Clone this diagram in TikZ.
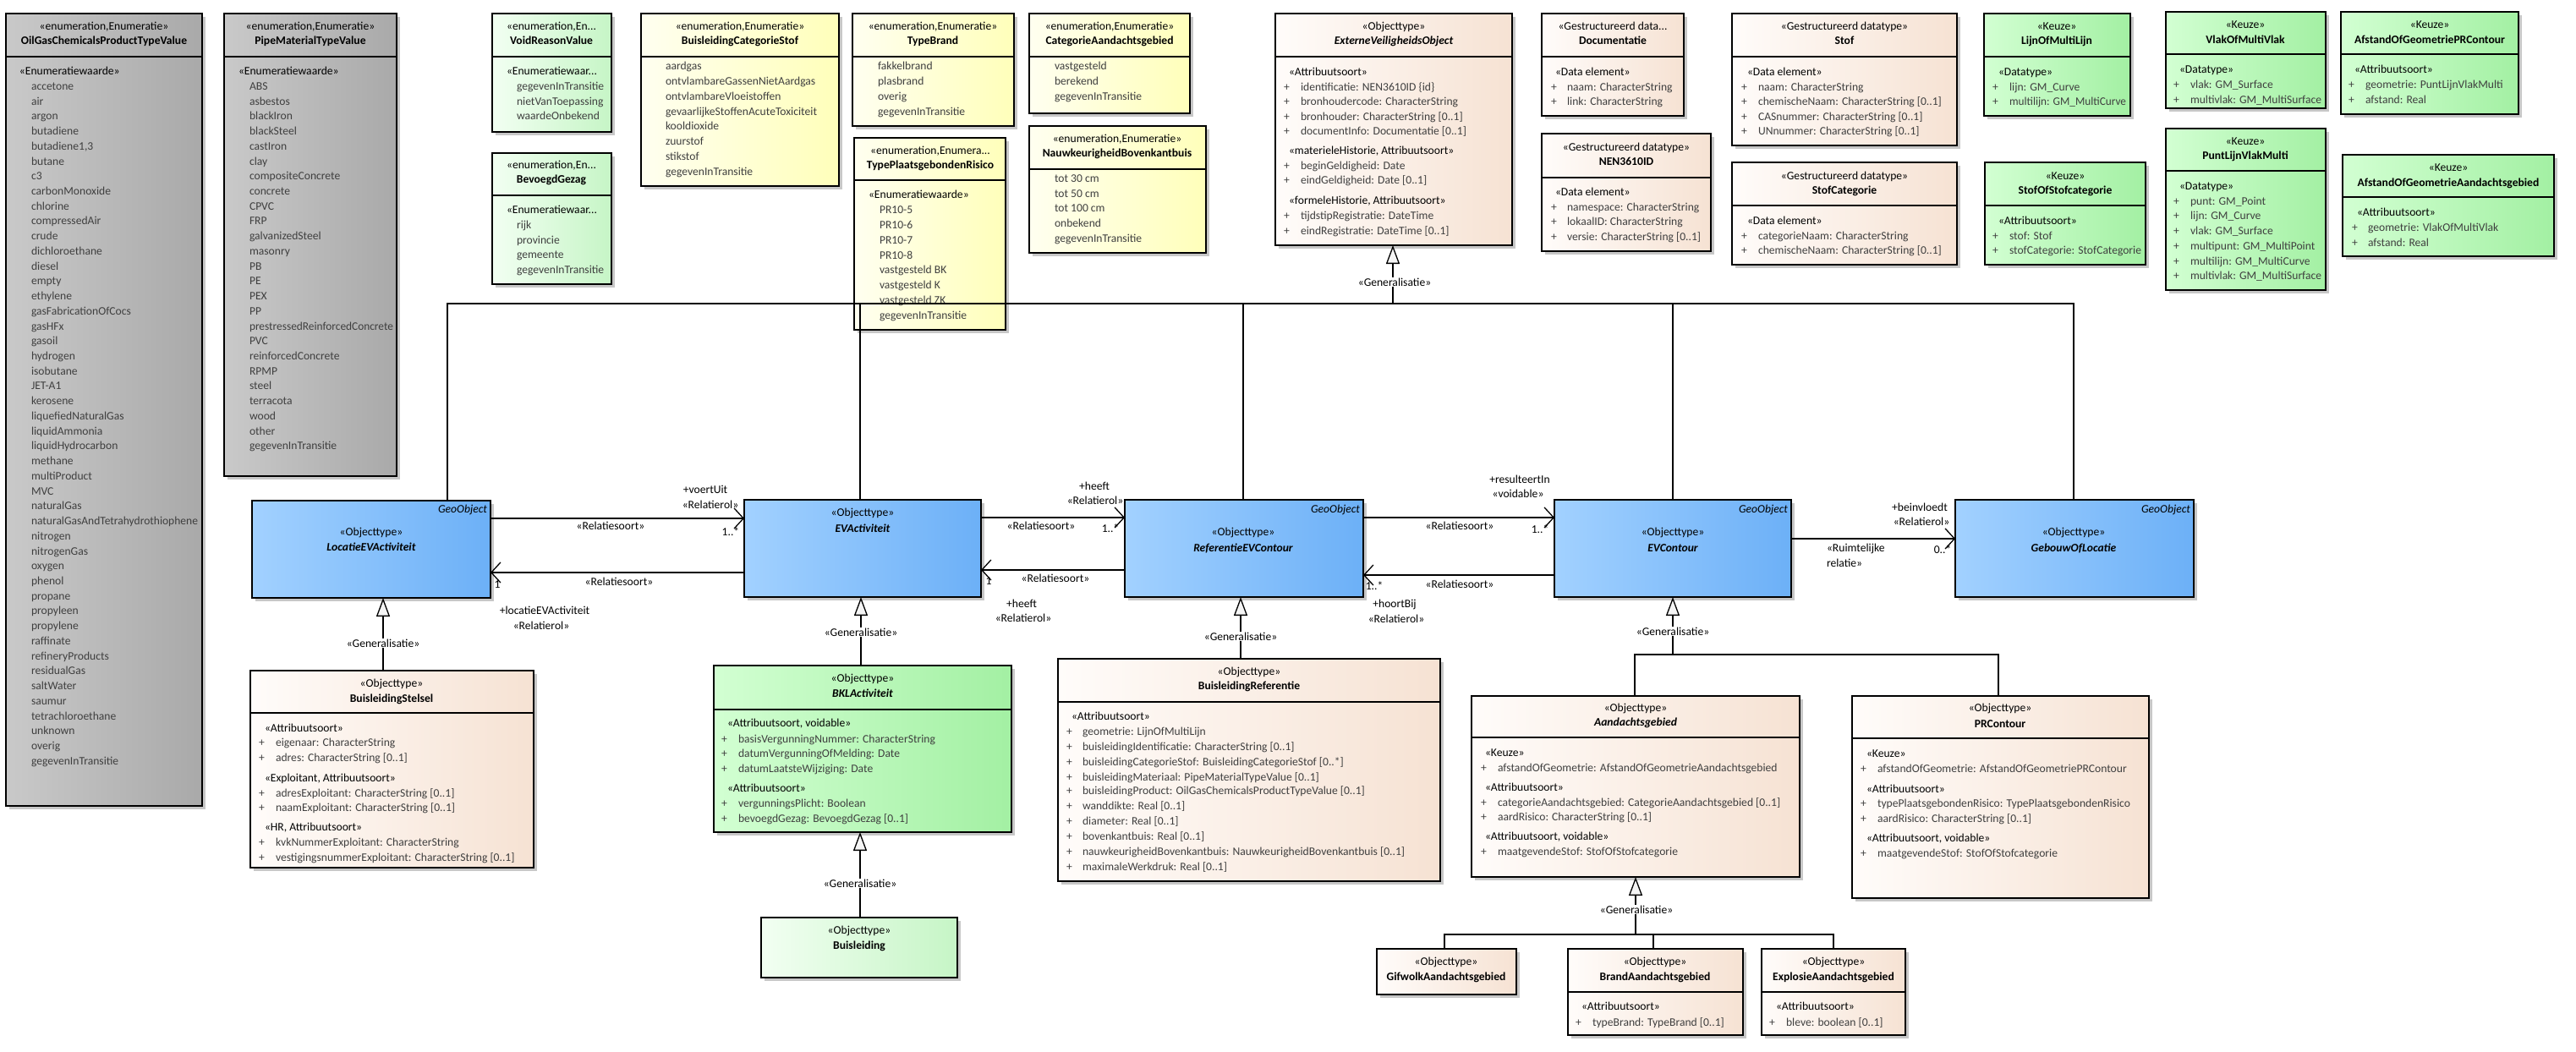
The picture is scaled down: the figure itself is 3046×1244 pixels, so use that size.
\documentclass[tikz,border=0pt]{standalone}
\usepackage{fontspec}
\usepackage{graphicx}
\setmainfont{Carlito}
\usetikzlibrary{arrows.meta,fit,shadows}
\definecolor{bl1}{HTML}{A2D1FF}
\definecolor{bl2}{HTML}{6CB0F7}
\definecolor{or1}{HTML}{FFFCFA}
\definecolor{or2}{HTML}{F6E2D3}
\definecolor{gr1}{HTML}{D2FFD2}
\definecolor{gr2}{HTML}{A3F0A3}
\definecolor{lg1}{HTML}{F2FFF2}
\definecolor{lg2}{HTML}{C6F5C6}
\definecolor{ye1}{HTML}{FFFFF0}
\definecolor{ye2}{HTML}{FFFFBA}
\definecolor{gy1}{HTML}{C9C9C9}
\definecolor{gy2}{HTML}{A9A9A9}
\definecolor{itc}{HTML}{3F3F3F}
\newcommand\fsz{\fontsize{13.6}{15.5}\selectfont}
\newsavebox\mwbox
\newcommand\maxw[2]{\sbox\mwbox{#2}\ifdim\wd\mwbox>#1pt\resizebox{#1pt}{\height}{\usebox\mwbox}\else\usebox\mwbox\fi}
\newcounter{tn}
\newcommand\mkT[4][txt]{\stepcounter{tn}\node[#1] (t\arabic{tn}) at (#2,#3) {#4};}
\newcommand\mkA[4]{\mkT[itm,anchor=mid west]{#1}{#3}{+}\mkT[itm,anchor=mid west]{#2}{#3}{#4}}
\newcommand\mkS[3]{\mkT[txt,anchor=mid west]{#1}{#2}{#3}}
\newcommand\mkH[6][ttl]{\mkT[txt,anchor=mid]{#2}{#3}{#5}\mkT[#1,anchor=mid]{#2}{#4}{#6}}
\newcommand\mkB[6]{\node[#6,fit={(#2,#3) (#4,#5)}] (#1) {};}
\newcommand\mkD[2]{\draw[line width=1.3pt] (#1.west |- 0,#2) -- (#1.east |- 0,#2);}
\begin{document}
\begin{tikzpicture}[x=1pt,y=-1pt,
  ubox/.style={draw=black,line width=1.3pt,inner sep=0pt,outer sep=0pt,rectangle,
    drop shadow={shadow xshift=4pt,shadow yshift=-4pt,fill=black!22,opacity=1}},
  greyb/.style={ubox,left color=gy1,right color=gy2},
  blueb/.style={ubox,left color=bl1,right color=bl2},
  orb/.style={ubox,left color=or1,right color=or2},
  greenb/.style={ubox,left color=gr1,right color=gr2},
  lgreenb/.style={ubox,left color=lg1,right color=lg2},
  yelb/.style={ubox,left color=ye1,right color=ye2},
  txt/.style={inner sep=0pt,outer sep=0pt,font=\fsz,text=black},
  itm/.style={txt,text=itc},
  ttl/.style={txt,font=\fsz\bfseries},
  tti/.style={txt,font=\fsz\bfseries\itshape},
  geo/.style={txt,font=\fsz\itshape,anchor=mid east},
  lbl/.style={txt,anchor=mid},
  glbl/.style={txt,anchor=mid,fill=white,inner sep=1pt},
  ln/.style={line width=1.3pt},
  gen/.style={line width=1.3pt,-{Triangle[length=22pt,width=16pt,fill=gray!8]}},
  asc/.style={line width=1.3pt,-{Straight Barb[length=11pt,width=24pt]}}
]
\fill[white] (0,0) rectangle (3046,1244);
\useasboundingbox (0,0) rectangle (3046,1244);

% ---------- grey enumerations ----------
\mkB{oil}{7}{16}{239}{953}{greyb}\mkD{oil}{67}
\mkH{123}{33}{50}{«enumeration,Enumeratie»}{OilGasChemicalsProductTypeValue}
\mkS{23}{86}{«Enumeratiewaarde»}
\foreach \t [count=\i from 0] in {accetone,air,argon,butadiene,{butadiene1,3},butane,c3,carbonMonoxide,chlorine,compressedAir,crude,dichloroethane,diesel,empty,ethylene,gasFabricationOfCocs,gasHFx,gasoil,hydrogen,isobutane,JET-A1,kerosene,liquefiedNaturalGas,liquidAmmonia,liquidHydrocarbon,methane,multiProduct,MVC,naturalGas,{\maxw{197}{naturalGasAndTetrahydrothiophene}},nitrogen,nitrogenGas,oxygen,phenol,propane,propyleen,propylene,raffinate,refineryProducts,residualGas,saltWater,saumur,tetrachloroethane,unknown,overig,gegevenInTransitie}
  {\mkT[itm,anchor=mid west]{37}{104+\i*17.73}{\t}}

\mkB{pipe}{265}{16}{469}{563}{greyb}\mkD{pipe}{67}
\mkH{367}{33}{50}{«enumeration,Enumeratie»}{PipeMaterialTypeValue}
\mkS{282}{86}{«Enumeratiewaarde»}
\foreach \t [count=\i from 0] in {ABS,asbestos,blackIron,blackSteel,castIron,clay,compositeConcrete,concrete,CPVC,FRP,galvanizedSteel,masonry,PB,PE,PEX,PP,{\maxw{170}{prestressedReinforcedConcrete}},PVC,reinforcedConcrete,RPMP,steel,terracota,wood,other,gegevenInTransitie}
  {\mkT[itm,anchor=mid west]{295}{104+\i*17.73}{\t}}

% ---------- green enumerations ----------
\mkB{void}{582}{16}{723}{156}{lgreenb}\mkD{void}{67}
\mkH{652}{33}{50}{«enumeration,En...}{VoidReasonValue}
\mkS{599}{86}{«Enumeratiewaar...}
\foreach \t [count=\i from 0] in {{\maxw{108}{gegevenInTransitie}},nietVanToepassing,waardeOnbekend}
  {\mkT[itm,anchor=mid west]{611}{104+\i*17.7}{\t}}

\mkB{bev}{582}{181}{723}{336}{lgreenb}\mkD{bev}{231}
\mkH{652}{197}{214}{«enumeration,En...}{BevoegdGezag}
\mkS{599}{250}{«Enumeratiewaar...}
\foreach \t [count=\i from 0] in {rijk,provincie,gemeente,{\maxw{108}{gegevenInTransitie}}}
  {\mkT[itm,anchor=mid west]{611}{268+\i*17.8}{\t}}

% ---------- yellow enumerations ----------
\mkB{bcs}{758}{16}{992}{220}{yelb}\mkD{bcs}{67}
\mkH{875}{33}{50}{«enumeration,Enumeratie»}{BuisleidingCategorieStof}
\foreach \t [count=\i from 0] in {aardgas,ontvlambareGassenNietAardgas,ontvlambareVloeistoffen,gevaarlijkeStoffenAcuteToxiciteit,kooldioxide,zuurstof,stikstof,gegevenInTransitie}
  {\mkT[itm,anchor=mid west]{787}{80+\i*17.9}{\t}}

\mkB{tb}{1008}{16}{1199}{149}{yelb}\mkD{tb}{67}
\mkH{1103}{33}{50}{«enumeration,Enumeratie»}{TypeBrand}
\foreach \t [count=\i from 0] in {fakkelbrand,plasbrand,overig,gegevenInTransitie}
  {\mkT[itm,anchor=mid west]{1038}{80+\i*18}{\t}}

\mkB{cag}{1217}{16}{1407}{134}{yelb}\mkD{cag}{67}
\mkH{1312}{33}{50}{«enumeration,Enumeratie»}{CategorieAandachtsgebied}
\foreach \t [count=\i from 0] in {vastgesteld,berekend,gegevenInTransitie}
  {\mkT[itm,anchor=mid west]{1247}{80+\i*18}{\t}}

\mkB{tpr}{1010}{163}{1189}{390}{yelb}\mkD{tpr}{213}
\mkH{1100}{180}{197}{«enumeration,Enumera...}{TypePlaatsgebondenRisico}
\mkS{1027}{232}{«Enumeratiewaarde»}
\foreach \t [count=\i from 0] in {PR10-5,PR10-6,PR10-7,PR10-8,vastgesteld BK,vastgesteld K,vastgesteld ZK,gegevenInTransitie}
  {\mkT[itm,anchor=mid west]{1040}{250+\i*17.9}{\t}}

\mkB{nbk}{1217}{149}{1426}{299}{yelb}\mkD{nbk}{200}
\mkH{1321}{166}{183}{«enumeration,Enumeratie»}{NauwkeurigheidBovenkantbuis}
\foreach \t [count=\i from 0] in {tot 30 cm,tot 50 cm,tot 100 cm,onbekend,gegevenInTransitie}
  {\mkT[itm,anchor=mid west]{1247}{213+\i*17.8}{\t}}

% ---------- ExterneVeiligheidsObject & datatypes ----------
\mkB{evo}{1508}{16}{1788}{290}{orb}\mkD{evo}{67}
\mkH[tti]{1648}{33}{50}{«Objecttype»}{ExterneVeiligheidsObject}
\mkS{1524}{87}{«Attribuutsoort»}
\mkA{1518}{1538}{105}{identificatie: NEN3610ID \{id\}}
\mkA{1518}{1538}{122}{bronhoudercode: CharacterString}
\mkA{1518}{1538}{140}{bronhouder: CharacterString [0..1]}
\mkA{1518}{1538}{157}{documentInfo: Documentatie [0..1]}
\mkS{1524}{180}{«materieleHistorie, Attribuutsoort»}
\mkA{1518}{1538}{198}{beginGeldigheid: Date}
\mkA{1518}{1538}{215}{eindGeldigheid: Date [0..1]}
\mkS{1524}{239}{«formeleHistorie, Attribuutsoort»}
\mkA{1518}{1538}{257}{tijdstipRegistratie: DateTime}
\mkA{1518}{1538}{275}{eindRegistratie: DateTime [0..1]}

\mkB{doc}{1823}{16}{1991}{137}{orb}\mkD{doc}{67}
\mkH{1907}{33}{50}{«Gestructureerd data...}{Documentatie}
\mkS{1839}{87}{«Data element»}
\mkA{1834}{1853}{105}{naam: CharacterString}
\mkA{1834}{1853}{122}{link: CharacterString}

\mkB{nen}{1823}{158}{2023}{297}{orb}\mkD{nen}{210}
\mkH{1923}{176}{193}{«Gestructureerd datatype»}{NEN3610ID}
\mkS{1839}{229}{«Data element»}
\mkA{1834}{1853}{247}{namespace: CharacterString}
\mkA{1834}{1853}{264}{lokaalID: CharacterString}
\mkA{1834}{1853}{282}{\maxw{165}{versie: CharacterString [0..1]}}

\mkB{stof}{2048}{16}{2314}{172}{orb}\mkD{stof}{67}
\mkH{2181}{33}{50}{«Gestructureerd datatype»}{Stof}
\mkS{2066}{87}{«Data element»}
\mkA{2059}{2079}{105}{naam: CharacterString}
\mkA{2059}{2079}{122}{chemischeNaam: CharacterString [0..1]}
\mkA{2059}{2079}{140}{CASnummer: CharacterString [0..1]}
\mkA{2059}{2079}{157}{UNnummer: CharacterString [0..1]}

\mkB{stc}{2048}{192}{2314}{313}{orb}\mkD{stc}{243}
\mkH{2181}{210}{227}{«Gestructureerd datatype»}{StofCategorie}
\mkS{2066}{263}{«Data element»}
\mkA{2059}{2079}{281}{categorieNaam: CharacterString}
\mkA{2059}{2079}{298}{chemischeNaam: CharacterString [0..1]}

% ---------- Keuze boxes ----------
\mkB{lml}{2346}{16}{2519}{137}{greenb}\mkD{lml}{67}
\mkH{2432}{33}{50}{«Keuze»}{LijnOfMultiLijn}
\mkS{2363}{87}{«Datatype»}
\mkA{2356}{2376}{105}{lijn: GM\_Curve}
\mkA{2356}{2376}{122}{\maxw{138}{multilijn: GM\_MultiCurve}}

\mkB{sos}{2347}{192}{2537}{313}{greenb}\mkD{sos}{243}
\mkH{2442}{210}{227}{«Keuze»}{StofOfStofcategorie}
\mkS{2363}{263}{«Attribuutsoort»}
\mkA{2356}{2376}{281}{stof: Stof}
\mkA{2356}{2376}{298}{\maxw{156}{stofCategorie: StofCategorie}}

\mkB{vmv}{2561}{14}{2750}{128}{greenb}\mkD{vmv}{64}
\mkH{2655}{31}{49}{«Keuze»}{VlakOfMultiVlak}
\mkS{2577}{84}{«Datatype»}
\mkA{2570}{2590}{102}{vlak: GM\_Surface}
\mkA{2570}{2590}{120}{\maxw{155}{multivlak: GM\_MultiSurface}}

\mkB{aogpr}{2768}{14}{2978}{135}{greenb}\mkD{aogpr}{64}
\mkH{2873}{31}{49}{«Keuze»}{\maxw{200}{AfstandOfGeometriePRContour}}
\mkS{2784}{84}{«Attribuutsoort»}
\mkA{2777}{2797}{102}{\maxw{165}{geometrie: PuntLijnVlakMulti}}
\mkA{2777}{2797}{120}{afstand: Real}

\mkB{plvm}{2561}{152}{2750}{343}{greenb}\mkD{plvm}{202}
\mkH{2655}{169}{186}{«Keuze»}{PuntLijnVlakMulti}
\mkS{2577}{222}{«Datatype»}
\mkA{2570}{2590}{240}{punt: GM\_Point}
\mkA{2570}{2590}{257}{lijn: GM\_Curve}
\mkA{2570}{2590}{275}{vlak: GM\_Surface}
\mkA{2570}{2590}{293}{\maxw{155}{multipunt: GM\_MultiPoint}}
\mkA{2570}{2590}{311}{\maxw{155}{multilijn: GM\_MultiCurve}}
\mkA{2570}{2590}{328}{\maxw{155}{multivlak: GM\_MultiSurface}}

\mkB{aoga}{2770}{183}{3020}{303}{greenb}\mkD{aoga}{233}
\mkH{2895}{200}{218}{«Keuze»}{\maxw{236}{AfstandOfGeometrieAandachtsgebied}}
\mkS{2787}{253}{«Attribuutsoort»}
\mkA{2781}{2800}{271}{geometrie: VlakOfMultiVlak}
\mkA{2781}{2800}{289}{afstand: Real}

% ---------- blue object types ----------
\mkB{loc}{298}{592}{580}{707}{blueb}
\mkH[tti]{439}{631}{649}{«Objecttype»}{LocatieEVActiviteit}
\mkT[geo]{576}{604}{GeoObject}

\mkB{evact}{880}{591}{1160}{706}{blueb}
\mkH[tti]{1020}{608}{627}{«Objecttype»}{EVActiviteit}

\mkB{ref}{1330}{591}{1612}{706}{blueb}
\mkH[tti]{1470}{631}{650}{«Objecttype»}{ReferentieEVContour}
\mkT[geo]{1608}{604}{GeoObject}

\mkB{evc}{1838}{591}{2118}{706}{blueb}
\mkH[tti]{1978}{631}{650}{«Objecttype»}{EVContour}
\mkT[geo]{2114}{604}{GeoObject}

\mkB{gol}{2312}{591}{2594}{706}{blueb}
\mkH[tti]{2452}{631}{650}{«Objecttype»}{GebouwOfLocatie}
\mkT[geo]{2590}{604}{GeoObject}

% ---------- lower object types ----------
\mkB{bst}{296}{793}{631}{1026}{orb}\mkD{bst}{843}
\mkH{463}{810}{828}{«Objecttype»}{BuisleidingStelsel}
\mkS{313}{863}{«Attribuutsoort»}
\mkA{306}{326}{880}{eigenaar: CharacterString}
\mkA{306}{326}{898}{adres: CharacterString [0..1]}
\mkS{313}{922}{«Exploitant, Attribuutsoort»}
\mkA{306}{326}{940}{adresExploitant: CharacterString [0..1]}
\mkA{306}{326}{957}{naamExploitant: CharacterString [0..1]}
\mkS{313}{980}{«HR, Attribuutsoort»}
\mkA{306}{326}{998}{kvkNummerExploitant: CharacterString}
\mkA{306}{326}{1016}{vestigingsnummerExploitant: CharacterString [0..1]}

\mkB{bkl}{844}{787}{1196}{984}{greenb}\mkD{bkl}{839}
\mkH[tti]{1020}{804}{822}{«Objecttype»}{BKLActiviteit}
\mkS{860}{857}{«Attribuutsoort, voidable»}
\mkA{853}{873}{876}{basisVergunningNummer: CharacterString}
\mkA{853}{873}{893}{datumVergunningOfMelding: Date}
\mkA{853}{873}{911}{datumLaatsteWijziging: Date}
\mkS{860}{934}{«Attribuutsoort»}
\mkA{853}{873}{952}{vergunningsPlicht: Boolean}
\mkA{853}{873}{970}{bevoegdGezag: BevoegdGezag [0..1]}

\mkB{bl}{900}{1085}{1132}{1156}{lgreenb}
\mkH{1016}{1102}{1120}{«Objecttype»}{Buisleiding}

\mkB{bref}{1251}{779}{1703}{1042}{orb}\mkD{bref}{830}
\mkH{1477}{796}{813}{«Objecttype»}{BuisleidingReferentie}
\mkS{1267}{849}{«Attribuutsoort»}
\mkA{1261}{1280}{867}{geometrie: LijnOfMultiLijn}
\mkA{1261}{1280}{885}{buisleidingIdentificatie: CharacterString [0..1]}
\mkA{1261}{1280}{903}{buisleidingCategorieStof: BuisleidingCategorieStof [0..*]}
\mkA{1261}{1280}{921}{buisleidingMateriaal: PipeMaterialTypeValue [0..1]}
\mkA{1261}{1280}{937}{buisleidingProduct: OilGasChemicalsProductTypeValue [0..1]}
\mkA{1261}{1280}{955}{wanddikte: Real [0..1]}
\mkA{1261}{1280}{973}{diameter: Real [0..1]}
\mkA{1261}{1280}{991}{bovenkantbuis: Real [0..1]}
\mkA{1261}{1280}{1009}{nauwkeurigheidBovenkantbuis: NauwkeurigheidBovenkantbuis [0..1]}
\mkA{1261}{1280}{1027}{maximaleWerkdruk: Real [0..1]}

\mkB{aand}{1740}{823}{2128}{1037}{orb}\mkD{aand}{872}
\mkH[tti]{1934}{839}{856}{«Objecttype»}{Aandachtsgebied}
\mkS{1756}{892}{«Keuze»}
\mkA{1751}{1771}{910}{afstandOfGeometrie: AfstandOfGeometrieAandachtsgebied}
\mkS{1756}{933}{«Attribuutsoort»}
\mkA{1751}{1771}{951}{categorieAandachtsgebied: CategorieAandachtsgebied [0..1]}
\mkA{1751}{1771}{968}{aardRisico: CharacterString [0..1]}
\mkS{1756}{991}{«Attribuutsoort, voidable»}
\mkA{1751}{1771}{1009}{maatgevendeStof: StofOfStofcategorie}

\mkB{prc}{2190}{823}{2541}{1062}{orb}\mkD{prc}{873}
\mkH{2365}{839}{858}{«Objecttype»}{PRContour}
\mkS{2207}{893}{«Keuze»}
\mkA{2200}{2220}{911}{afstandOfGeometrie: AfstandOfGeometriePRContour}
\mkS{2207}{935}{«Attribuutsoort»}
\mkA{2200}{2220}{952}{typePlaatsgebondenRisico: TypePlaatsgebondenRisico}
\mkA{2200}{2220}{970}{aardRisico: CharacterString [0..1]}
\mkS{2207}{993}{«Attribuutsoort, voidable»}
\mkA{2200}{2220}{1011}{maatgevendeStof: StofOfStofcategorie}

\mkB{gif}{1628}{1122}{1793}{1176}{orb}
\mkH{1710}{1139}{1157}{«Objecttype»}{GifwolkAandachtsgebied}

\mkB{brand}{1854}{1122}{2061}{1224}{orb}\mkD{brand}{1173}
\mkH{1957}{1139}{1157}{«Objecttype»}{BrandAandachtsgebied}
\mkS{1870}{1192}{«Attribuutsoort»}
\mkA{1863}{1883}{1211}{typeBrand: TypeBrand [0..1]}

\mkB{expl}{2083}{1122}{2253}{1224}{orb}\mkD{expl}{1173}
\mkH{2168}{1139}{1157}{«Objecttype»}{ExplosieAandachtsgebied}
\mkS{2100}{1192}{«Attribuutsoort»}
\mkA{2092}{2112}{1211}{bleve: boolean [0..1]}

% ---------- generalisations ----------
\coordinate (jtop) at (1647,359);
\coordinate (jevc) at (1978,774);
\coordinate (jaand) at (1934,1105);
\draw[ln] (loc.north -| 529,0) -- (529,359) -- (2452,359) -- (gol.north -| 2452,0);
\draw[ln] (evact.north -| 1017,0) -- (1017,359);
\draw[ln] (ref.north -| 1470,0) -- (1470,359);
\draw[ln] (evc.north -| 1978,0) -- (1978,359);
\draw[gen] (jtop) -- (evo.south -| jtop);
\mkT[glbl]{1649}{336}{«Generalisatie»}

\draw[gen] (bst.north -| 453,0) -- (loc.south -| 453,0);
\mkT[glbl]{453}{763}{«Generalisatie»}
\draw[gen] (bkl.north -| 1018,0) -- (evact.south -| 1018,0);
\mkT[glbl]{1018}{750}{«Generalisatie»}
\draw[gen] (bl.north -| 1017,0) -- (bkl.south -| 1017,0);
\mkT[glbl]{1017}{1047}{«Generalisatie»}
\draw[gen] (bref.north -| 1467,0) -- (ref.south -| 1467,0);
\mkT[glbl]{1467}{755}{«Generalisatie»}

\draw[ln] (aand.north -| 1933,0) -- (1933,774) -- (2363,774) -- (prc.north -| 2363,0);
\draw[gen] (jevc) -- (evc.south -| jevc);
\mkT[glbl]{1978}{749}{«Generalisatie»}

\draw[ln] (gif.north -| 1708,0) -- (1708,1105) -- (2168,1105) -- (expl.north -| 2168,0);
\draw[ln] (brand.north -| 1955,0) -- (1955,1105);
\draw[gen] (jaand) -- (aand.south -| jaand);
\mkT[glbl]{1935}{1078}{«Generalisatie»}

% ---------- associations ----------
\draw[asc] (loc.east |- 0,613) -- (evact.west |- 0,613);
\draw[asc] (evact.west |- 0,677) -- (loc.east |- 0,677);
\draw[asc] (evact.east |- 0,612) -- (ref.west |- 0,612);
\draw[asc] (ref.west |- 0,674) -- (evact.east |- 0,674);
\draw[asc] (ref.east |- 0,612) -- (evc.west |- 0,612);
\draw[asc] (evc.west |- 0,680) -- (ref.east |- 0,680);
\draw[asc] (evc.east |- 0,637) -- (gol.west |- 0,637);

\mkT[lbl]{722}{624}{«Relatiesoort»}
\mkT[lbl]{834}{581}{+voertUit}
\mkT[lbl]{840}{599}{«Relatierol»}
\mkT[lbl]{864}{631}{1..*}
\mkT[lbl]{732}{690}{«Relatiesoort»}
\mkT[lbl]{588}{693}{1}
\mkT[lbl]{644}{724}{+locatieEVActiviteit}
\mkT[lbl]{640}{742}{«Relatierol»}

\mkT[lbl]{1231}{624}{«Relatiesoort»}
\mkT[lbl]{1294}{577}{+heeft}
\mkT[lbl]{1295}{594}{«Relatierol»}
\mkT[lbl]{1313}{627}{1..*}
\mkT[lbl]{1248}{686}{«Relatiesoort»}
\mkT[lbl]{1169}{689}{1}
\mkT[lbl]{1208}{716}{+heeft}
\mkT[lbl]{1210}{733}{«Relatierol»}

\mkT[lbl]{1726}{624}{«Relatiesoort»}
\mkT[lbl]{1797}{569}{+resulteertIn}
\mkT[lbl]{1795}{586}{«voidable»}
\mkT[lbl]{1821}{628}{1..*}
\mkT[lbl]{1726}{693}{«Relatiesoort»}
\mkT[lbl]{1625}{695}{1..*}
\mkT[lbl]{1649}{716}{+hoortBij}
\mkT[lbl]{1651}{734}{«Relatierol»}

\mkT[lbl]{2270}{602}{+beinvloedt}
\mkT[lbl]{2272}{619}{«Relatierol»}
\mkT[lbl]{2297}{652}{0..*}
\mkT[txt,anchor=mid west]{2160}{650}{«Ruimtelijke}
\mkT[txt,anchor=mid west]{2160}{668}{relatie»}
\end{tikzpicture}
\end{document}
